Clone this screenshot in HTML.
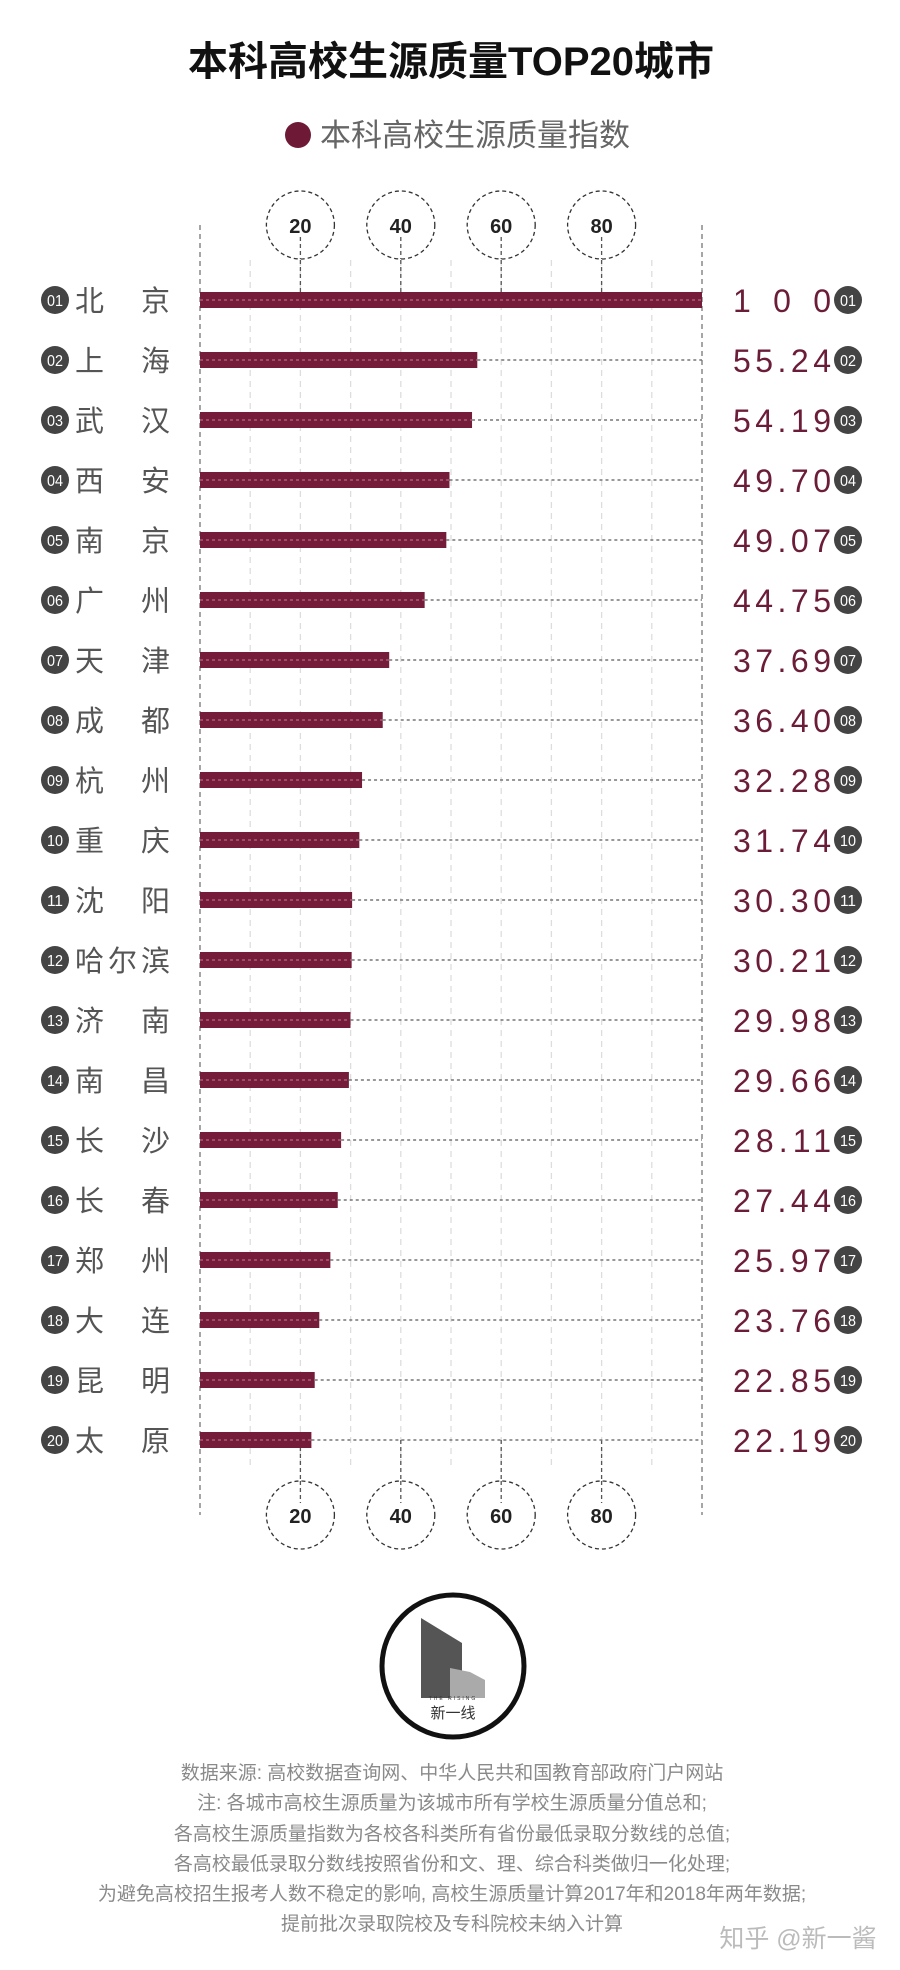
<!DOCTYPE html>
<html><head><meta charset="utf-8"><style>
body{margin:0;background:#fff;}
svg{display:block;font-family:"Liberation Sans","Noto Sans CJK SC",sans-serif;}
</style></head><body>
<svg id="c" width="900" height="1970" viewBox="0 0 900 1970" xmlns="http://www.w3.org/2000/svg">
<text x="451" y="75" text-anchor="middle" font-size="40" font-weight="bold" fill="#111">本科高校生源质量TOP20城市</text>
<g>
<circle cx="298" cy="135" r="13" fill="#6e1a36"/>
<text x="320" y="146" font-size="31" fill="#666">本科高校生源质量指数</text>
</g>
<g id="grid"></g><g id="bars"></g><g id="labels"></g>
<g>
<circle cx="453" cy="1666" r="71" fill="none" stroke="#111" stroke-width="5"/>
<polygon points="421,1618 462,1643 462,1672 450,1672 450,1698 421,1698" fill="#555"/>
<polygon points="450,1668 470,1672 485,1680 485,1698 450,1698" fill="#aaa"/>
<text x="453" y="1700" text-anchor="middle" font-size="5" fill="#333" letter-spacing="2">THE RISING</text>
<text x="453" y="1718" text-anchor="middle" font-size="15" fill="#333">新一线</text>
</g>
<g font-size="19" fill="#8a8a8a" text-anchor="middle">
<text x="452" y="1779">数据来源: 高校数据查询网、中华人民共和国教育部政府门户网站</text>
<text x="452" y="1809">注: 各城市高校生源质量为该城市所有学校生源质量分值总和;</text>
<text x="452" y="1840">各高校生源质量指数为各校各科类所有省份最低录取分数线的总值;</text>
<text x="452" y="1870">各高校最低录取分数线按照省份和文、理、综合科类做归一化处理;</text>
<text x="452" y="1900">为避免高校招生报考人数不稳定的影响, 高校生源质量计算2017年和2018年两年数据;</text>
<text x="452" y="1930">提前批次录取院校及专科院校未纳入计算</text>
</g>
<text x="798" y="1947" text-anchor="middle" font-size="25" fill="#bbb">知乎 @新一酱</text>
</svg>
<script>
const cities=["北京","上海","武汉","西安","南京","广州","天津","成都","杭州","重庆","沈阳","哈尔滨","济南","南昌","长沙","长春","郑州","大连","昆明","太原"];
const values=[100,55.24,54.19,49.70,49.07,44.75,37.69,36.40,32.28,31.74,30.30,30.21,29.98,29.66,28.11,27.44,25.97,23.76,22.85,22.19];
const valueLabels=["100","55.24","54.19","49.70","49.07","44.75","37.69","36.40","32.28","31.74","30.30","30.21","29.98","29.66","28.11","27.44","25.97","23.76","22.85","22.19"];
const ticks=[20,40,60,80];
const NS="http://www.w3.org/2000/svg";
const xs=v=>200+v*5.02;
const ys=i=>300+i*60;
function mk(p,t,a){const e=document.createElementNS(NS,t);for(const k in a)e.setAttribute(k,a[k]);p.appendChild(e);return e;}
const gridG=document.getElementById('grid'),barsG=document.getElementById('bars'),labelsG=document.getElementById('labels');
const axTop=225,axBot=1515;
for(let v=10;v<100;v+=10){
 const l=mk(gridG,'line',{x1:xs(v),x2:xs(v),y1:260,y2:1470,stroke:'#ddd','stroke-width':1.3,'stroke-dasharray':'6,5'});
 
 
}
[0,100].forEach(v=>{
 const l=mk(gridG,'line',{x1:xs(v),x2:xs(v),y1:axTop,y2:axBot,stroke:'#777','stroke-width':1.3,'stroke-dasharray':'5,4'});
 
 
});
ticks.forEach(t=>{
 [axTop,axBot].forEach((cy,k)=>{
  const g=mk(gridG,'g',{});
  
  
  mk(g,'circle',{cx:xs(t),cy:cy,r:34,fill:'#fff',stroke:'#333','stroke-width':1.3,'stroke-dasharray':'4,3'});
  mk(g,'line',{x1:xs(t),x2:xs(t),y1:k?cy-34:cy+12,y2:k?cy-12:cy+34,stroke:'#555','stroke-width':1.3,'stroke-dasharray':'4,3'});
  mk(g,'line',{x1:xs(t),x2:xs(t),y1:k?1440:260,y2:k?1480:300,stroke:'#555','stroke-width':1.3,'stroke-dasharray':'4,3'});
  const tx=mk(g,'text',{x:xs(t),y:cy+8,'text-anchor':'middle','font-size':20,'font-weight':'bold',fill:'#222'});
  tx.textContent=t;
 });
});
cities.forEach((c,i)=>{
 const cy=ys(i);
 const b=mk(barsG,'rect',{x:xs(0),y:cy-8,width:xs(values[i])-xs(0),height:16,fill:'#741c3a'});
 
 
 mk(barsG,'line',{x1:xs(0),x2:xs(values[i]),y1:cy,y2:cy,stroke:'#b46a82','stroke-width':1.3,'stroke-dasharray':'3,3'});
 const d=mk(barsG,'line',{x1:xs(values[i]),x2:xs(100),y1:cy,y2:cy,stroke:'#777','stroke-width':1.5,'stroke-dasharray':'3,3'});
 
 
 const num=String(i+1).padStart(2,'0');
 [55,848].forEach(bx=>{
  const g=mk(labelsG,'g',{});
  
  
  mk(g,'circle',{cx:bx,cy:cy,r:14,fill:'#444'});
  const t=mk(g,'text',{x:bx,y:cy+6,'text-anchor':'middle','font-size':16,fill:'#fff',textLength:16,lengthAdjust:'spacingAndGlyphs'});
  t.textContent=num;
 });
 const n=mk(labelsG,'text',{x:75,y:cy+11,'font-size':29,fill:'#555',textLength:95,lengthAdjust:'spacing'});
 
 
 n.textContent=c;
 const v=mk(labelsG,'text',{x:733,y:cy+12,'font-size':32,fill:'#6b1c38',textLength:98,lengthAdjust:'spacing'});
 
 
 v.textContent=valueLabels[i];
});
</script>
</body></html>
